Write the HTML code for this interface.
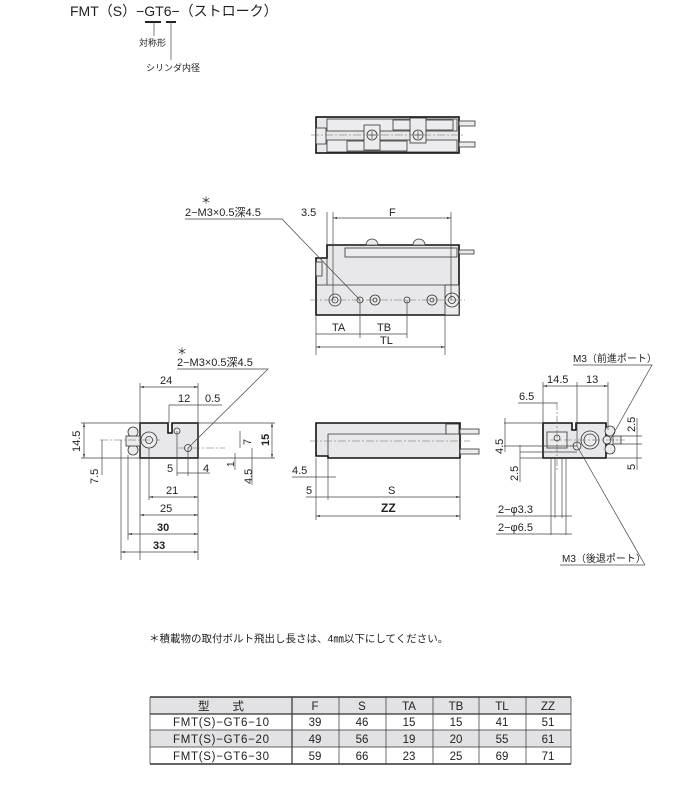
<!DOCTYPE html>
<html><head><meta charset="utf-8"><style>
html,body{margin:0;padding:0;background:#fff;}
svg{display:block;}
text{font-family:"Liberation Sans","Noto Sans CJK JP",sans-serif;fill:#222;}
.d{stroke:#444;stroke-width:0.7;fill:none;}
.c{stroke:#666;stroke-width:0.6;fill:none;stroke-dasharray:8 2 2 2;}
.b{stroke:#111;stroke-width:1.6;fill:#e8e8ea;}
.t{stroke:#333;stroke-width:0.8;fill:#ececee;}
</style></head><body>
<svg width="700" height="793" viewBox="0 0 700 793" xmlns="http://www.w3.org/2000/svg">
<defs><marker id="a" markerWidth="6" markerHeight="6" refX="6" refY="3" orient="auto-start-reverse"><path d="M0,1.5 L6,3 L0,4.5z" fill="#333"/></marker></defs>

<!-- title -->
<text x="70" y="16" font-size="14">FMT（S）−GT6−（ストローク）</text>
<line x1="145" y1="22" x2="161" y2="22" stroke="#222" stroke-width="2"/>
<line x1="166" y1="22" x2="176" y2="22" stroke="#222" stroke-width="2"/>
<line x1="154" y1="22" x2="154" y2="36" class="d"/>
<line x1="171" y1="22" x2="171" y2="60" class="d"/>
<text x="139" y="46" font-size="9">対称形</text>
<text x="146" y="71" font-size="9">シリンダ内径</text>

<!-- top view -->
<rect x="316" y="117" width="143" height="36" class="b"/>
<rect x="316" y="128" width="10" height="16" class="t"/>
<rect x="327" y="119" width="130" height="12" class="t"/>
<rect x="393" y="120" width="60" height="10" class="t"/>
<rect x="327" y="140" width="130" height="12" class="t"/>
<rect x="347" y="141" width="60" height="10" class="t"/>
<rect x="364" y="125" width="16" height="25" class="t"/>
<rect x="410" y="118" width="16" height="25" class="t"/>
<circle cx="372" cy="135" r="5" class="t"/><circle cx="418" cy="135" r="5" class="t"/>
<line x1="368" y1="135" x2="376" y2="135" class="d"/><line x1="372" y1="131" x2="372" y2="139" class="d"/>
<line x1="414" y1="135" x2="422" y2="135" class="d"/><line x1="418" y1="131" x2="418" y2="139" class="d"/>
<rect x="459" y="121" width="16" height="5" class="t"/><rect x="459" y="142" width="16" height="5" class="t"/>
<line x1="311" y1="135" x2="465" y2="135" class="c"/>

<!-- middle view -->
<path d="M327,245 H459 V315 H316 V258 H327 Z" class="b"/>
<rect x="345" y="248" width="112" height="9" class="t"/>
<rect x="316" y="262" width="6" height="14" class="t"/>
<line x1="316" y1="285" x2="459" y2="285" stroke="#333" stroke-width="0.8"/>
<line x1="327" y1="258" x2="327" y2="285" stroke="#333" stroke-width="0.8"/>
<rect x="445" y="285" width="14" height="30" class="t"/>
<path d="M366,245 a6,6 0 0 1 12,0z" class="t"/><path d="M413,245 a6,6 0 0 1 12,0z" class="t"/>
<rect x="459" y="250" width="15" height="4" class="t"/>
<g class="t">
<circle cx="335" cy="300" r="6"/><circle cx="335" cy="300" r="3"/>
<circle cx="360" cy="300" r="3"/>
<circle cx="375" cy="300" r="5"/><circle cx="375" cy="300" r="2"/>
<circle cx="407" cy="300" r="3"/>
<circle cx="432" cy="300" r="5"/><circle cx="432" cy="300" r="2"/>
<circle cx="452" cy="300" r="7"/><circle cx="452" cy="300" r="3.5"/>
</g>
<line x1="310" y1="300" x2="465" y2="300" class="c"/>
<text x="201" y="204" font-size="10">＊</text>
<text x="185" y="216" font-size="11">2−M3×0.5深4.5</text>
<polyline points="185,219 282,219 360,300" class="d"/>
<text x="301" y="216" font-size="11">3.5</text>
<text x="389" y="216" font-size="11">F</text>
<line x1="327" y1="212" x2="327" y2="245" class="d"/><line x1="333" y1="212" x2="333" y2="300" class="d"/><line x1="451" y1="212" x2="451" y2="300" class="d"/>
<line x1="333" y1="218" x2="451" y2="218" class="d" marker-start="url(#a)" marker-end="url(#a)"/>
<line x1="316" y1="315" x2="316" y2="355" class="d"/><line x1="360" y1="300" x2="360" y2="338" class="d"/><line x1="407" y1="300" x2="407" y2="338" class="d"/><line x1="445" y1="315" x2="445" y2="355" class="d"/>
<line x1="316" y1="334" x2="407" y2="334" class="d"/>
<text x="332" y="331" font-size="11">TA</text><text x="377" y="331" font-size="11">TB</text>
<line x1="316" y1="347" x2="445" y2="347" class="d" marker-start="url(#a)" marker-end="url(#a)"/>
<text x="380" y="344" font-size="11">TL</text>

<!-- left end view -->
<path d="M140,423 H168 V433 H172 V423 H198 V458 H140 Z" class="b"/>
<circle cx="133" cy="432" r="5" class="t"/><circle cx="133" cy="450" r="5" class="t"/>
<rect x="126" y="436" width="14" height="10" class="t"/>
<circle cx="149" cy="440" r="8" class="t"/><circle cx="149" cy="440" r="3.5" class="t"/>
<circle cx="177" cy="431" r="3" class="t"/><circle cx="188" cy="448" r="3.5" class="t"/>
<line x1="100" y1="440" x2="160" y2="440" class="c"/><line x1="178" y1="448" x2="225" y2="448" class="c"/>
<text x="177" y="355" font-size="10">＊</text>
<text x="177" y="366" font-size="11">2−M3×0.5深4.5</text>
<polyline points="177,369 268,369 188,448" class="d"/>
<line x1="140" y1="383" x2="140" y2="560" class="d"/><line x1="198" y1="383" x2="198" y2="560" class="d"/>
<line x1="140" y1="387" x2="198" y2="387" class="d" marker-start="url(#a)" marker-end="url(#a)"/><text x="160" y="384" font-size="11">24</text>
<line x1="169" y1="405" x2="169" y2="423" class="d"/>
<line x1="169" y1="405" x2="222" y2="405" class="d"/><text x="178" y="402" font-size="11">12</text><text x="205" y="402" font-size="11">0.5</text>
<line x1="81" y1="423" x2="140" y2="423" class="d"/><line x1="81" y1="458" x2="140" y2="458" class="d"/>
<line x1="84" y1="423" x2="84" y2="458" class="d" marker-start="url(#a)" marker-end="url(#a)"/>
<text transform="translate(80,452) rotate(-90)" font-size="11">14.5</text>
<line x1="102" y1="440" x2="102" y2="475" class="d"/>
<text transform="translate(98,484) rotate(-90)" font-size="11">7.5</text>
<line x1="198" y1="423" x2="275" y2="423" class="d"/><line x1="198" y1="458" x2="275" y2="458" class="d"/>
<line x1="272" y1="423" x2="272" y2="458" class="d" marker-start="url(#a)" marker-end="url(#a)"/>
<text transform="translate(269,446) rotate(-90)" font-size="11" font-weight="bold">15</text>
<line x1="240" y1="431" x2="240" y2="448" class="d"/><text transform="translate(251,445) rotate(-90)" font-size="11">7</text>
<line x1="235" y1="453" x2="235" y2="470" class="d"/><text transform="translate(234,467) rotate(-90)" font-size="10">1</text>
<line x1="252" y1="448" x2="252" y2="485" class="d"/><text transform="translate(252,484) rotate(-90)" font-size="11">4.5</text>
<line x1="177" y1="431" x2="177" y2="476" class="d"/><line x1="188" y1="448" x2="188" y2="476" class="d"/><line x1="149" y1="448" x2="149" y2="500" class="d"/>
<line x1="177" y1="473" x2="210" y2="473" class="d"/><text x="167" y="472" font-size="11">5</text><text x="203" y="472" font-size="11">4</text>
<line x1="149" y1="497" x2="198" y2="497" class="d" marker-start="url(#a)" marker-end="url(#a)"/><text x="166" y="494" font-size="11">21</text>
<line x1="140" y1="515" x2="198" y2="515" class="d" marker-start="url(#a)" marker-end="url(#a)"/><text x="160" y="512" font-size="11">25</text>
<line x1="128" y1="455" x2="128" y2="540" class="d"/><line x1="121" y1="440" x2="121" y2="560" class="d"/>
<line x1="128" y1="534" x2="198" y2="534" class="d" marker-start="url(#a)" marker-end="url(#a)"/><text x="157" y="531" font-size="11" font-weight="bold">30</text>
<line x1="121" y1="552" x2="198" y2="552" class="d" marker-start="url(#a)" marker-end="url(#a)"/><text x="153" y="549" font-size="11" font-weight="bold">33</text>

<!-- front view -->
<path d="M316,423 H460 V458 H328 V456 H316 Z" class="b"/>
<path d="M328,456 V434 H446 V423" fill="none" stroke="#333" stroke-width="0.8"/>
<rect x="446" y="424" width="13" height="10" class="t"/>
<rect x="460" y="429" width="19" height="5" class="t"/><rect x="460" y="449" width="19" height="5" class="t"/>
<line x1="310" y1="441" x2="470" y2="441" class="c"/>
<line x1="316" y1="458" x2="316" y2="520" class="d"/><line x1="328" y1="458" x2="328" y2="500" class="d"/><line x1="460" y1="458" x2="460" y2="520" class="d"/>
<line x1="292" y1="477" x2="336" y2="477" class="d"/><text x="292" y="474" font-size="11">4.5</text>
<line x1="306" y1="497" x2="460" y2="497" class="d" marker-end="url(#a)"/><text x="306" y="494" font-size="11">5</text><text x="388" y="494" font-size="11">S</text>
<line x1="316" y1="516" x2="460" y2="516" class="d" marker-start="url(#a)" marker-end="url(#a)"/><text x="381" y="512" font-size="12" font-weight="bold">ZZ</text>

<!-- right end view -->
<path d="M543,423 H572 V430 H576 V423 H606 V458 H543 Z" class="b"/>
<rect x="547" y="432" width="20" height="16" class="t"/><circle cx="557" cy="438" r="3" class="t"/>
<circle cx="577" cy="446" r="4" class="t"/>
<circle cx="590" cy="440" r="9" class="t"/><circle cx="590" cy="440" r="6" class="t"/>
<circle cx="610" cy="431" r="5" class="t"/><circle cx="610" cy="449" r="5" class="t"/><circle cx="607" cy="440" r="4" class="t"/>
<rect x="613" y="436" width="8" height="8" class="t"/>
<line x1="557" y1="402" x2="557" y2="470" class="c"/><line x1="550" y1="440" x2="625" y2="440" class="c"/>
<line x1="543" y1="382" x2="543" y2="423" class="d"/><line x1="577" y1="382" x2="577" y2="446" class="d"/><line x1="608" y1="382" x2="608" y2="430" class="d"/>
<line x1="543" y1="386" x2="608" y2="386" class="d" marker-start="url(#a)" marker-end="url(#a)"/>
<text x="547" y="383" font-size="11">14.5</text><text x="586" y="383" font-size="11">13</text>
<line x1="518" y1="403" x2="557" y2="403" class="d"/><text x="519" y="400" font-size="11">6.5</text>
<text x="573" y="362" font-size="10">M3（前進ポート）</text>
<polyline points="573,365 652,365 610,440" class="d"/>
<line x1="504" y1="423" x2="543" y2="423" class="d"/><line x1="504" y1="446" x2="577" y2="446" class="d"/><line x1="520" y1="452" x2="577" y2="452" class="d"/><line x1="520" y1="458" x2="543" y2="458" class="d"/>
<line x1="505" y1="418" x2="505" y2="452" class="d"/><text transform="translate(503,454) rotate(-90)" font-size="11">4.5</text>
<line x1="520" y1="445" x2="520" y2="482" class="d"/><text transform="translate(518,481) rotate(-90)" font-size="11">2.5</text>
<line x1="620" y1="436" x2="642" y2="436" class="d"/><line x1="620" y1="444" x2="642" y2="444" class="d"/><line x1="606" y1="458" x2="642" y2="458" class="d"/>
<line x1="637" y1="418" x2="637" y2="470" class="d"/>
<text transform="translate(635,432) rotate(-90)" font-size="11">2.5</text><text transform="translate(635,470) rotate(-90)" font-size="11">5</text>
<line x1="551" y1="458" x2="551" y2="535" class="d"/><line x1="555" y1="458" x2="555" y2="518" class="d"/><line x1="562" y1="458" x2="562" y2="518" class="d"/><line x1="566" y1="458" x2="566" y2="535" class="d"/>
<line x1="496" y1="516" x2="572" y2="516" class="d"/><text x="498" y="513" font-size="11">2−φ3.3</text>
<line x1="496" y1="534" x2="572" y2="534" class="d"/><text x="498" y="531" font-size="11">2−φ6.5</text>
<line x1="577" y1="446" x2="645" y2="565" class="d"/>
<line x1="560" y1="565" x2="645" y2="565" class="d"/><text x="562" y="562" font-size="10">M3（後退ポート）</text>

<!-- note -->
<text x="149" y="642" font-size="10.5">＊積載物の取付ボルト飛出し長さは、4㎜以下にしてください。</text>

<!-- table -->
<rect x="150" y="697" width="421" height="17" fill="#e2e2e4"/>
<rect x="150" y="730" width="421" height="17" fill="#e2e2e4"/>
<g stroke="#333" stroke-width="0.7">
<line x1="150" y1="697" x2="571" y2="697" stroke-width="1.6"/>
<line x1="150" y1="714" x2="571" y2="714" stroke-width="1.2"/>
<line x1="150" y1="730" x2="571" y2="730"/><line x1="150" y1="747" x2="571" y2="747"/>
<line x1="150" y1="764" x2="571" y2="764" stroke-width="1.6"/>
<line x1="150" y1="697" x2="150" y2="764"/><line x1="292" y1="697" x2="292" y2="764" stroke-width="1.2"/>
<line x1="339" y1="697" x2="339" y2="764"/><line x1="386" y1="697" x2="386" y2="764"/><line x1="433" y1="697" x2="433" y2="764"/><line x1="479" y1="697" x2="479" y2="764"/><line x1="526" y1="697" x2="526" y2="764"/><line x1="571" y1="697" x2="571" y2="764"/>
</g>
<g font-size="11.5" text-anchor="middle">
<text x="221" y="710">型　　式</text><text x="315" y="710">F</text><text x="362" y="710">S</text><text x="409" y="710">TA</text><text x="456" y="710">TB</text><text x="502" y="710">TL</text><text x="548" y="710">ZZ</text>
<text x="221" y="726" textLength="96" lengthAdjust="spacing">FMT(S)−GT6−10</text><text x="315" y="726">39</text><text x="362" y="726">46</text><text x="409" y="726">15</text><text x="456" y="726">15</text><text x="502" y="726">41</text><text x="548" y="726">51</text>
<text x="221" y="743" textLength="96" lengthAdjust="spacing">FMT(S)−GT6−20</text><text x="315" y="743">49</text><text x="362" y="743">56</text><text x="409" y="743">19</text><text x="456" y="743">20</text><text x="502" y="743">55</text><text x="548" y="743">61</text>
<text x="221" y="760" textLength="96" lengthAdjust="spacing">FMT(S)−GT6−30</text><text x="315" y="760">59</text><text x="362" y="760">66</text><text x="409" y="760">23</text><text x="456" y="760">25</text><text x="502" y="760">69</text><text x="548" y="760">71</text>
</g>
</svg>
</body></html>
